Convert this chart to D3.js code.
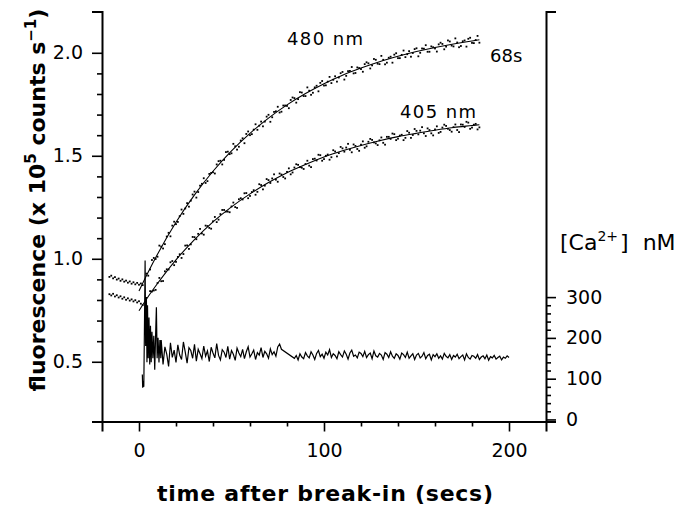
<!DOCTYPE html>
<html>
<head>
<meta charset="utf-8">
<script src="https://cdn.jsdelivr.net/npm/d3@7"></script>
<style>
  body { margin: 0; background: #fff; }
  svg text { font-family: "DejaVu Sans", sans-serif; fill: #000; }
</style>
</head>
<body>
<div id="chart"></div>
<script>
// pre break-in readings, one per second
const preTimes = [-16, -15, -14, -13, -12, -11, -10, -9, -8, -7, -6, -5, -4, -3, -2, -1, 0, 1, 2];
const pre480 = [0.912, 0.918, 0.905, 0.911, 0.899, 0.904, 0.893, 0.900, 0.889, 0.894, 0.884, 0.890, 0.879, 0.886, 0.876, 0.883, 0.874, 0.880, 0.872];
const pre405 = [0.828, 0.822, 0.830, 0.817, 0.823, 0.812, 0.818, 0.806, 0.813, 0.801, 0.808, 0.797, 0.803, 0.793, 0.799, 0.788, 0.794, 0.782, 0.775];

// after break-in: 480 nm at even seconds from t=4, and odd seconds from t=5
const dots480 = [0.928, 0.948, 1.004, 1.010, 1.059, 1.071, 1.126, 1.161, 1.168, 1.207,
  1.218, 1.270, 1.282, 1.326, 1.324, 1.364, 1.368, 1.412, 1.420, 1.458,
  1.476, 1.480, 1.520, 1.512, 1.546, 1.544, 1.585, 1.606, 1.600, 1.627,
  1.626, 1.666, 1.666, 1.699, 1.687, 1.716, 1.710, 1.744, 1.742, 1.771,
  1.780, 1.775, 1.807, 1.790, 1.816, 1.806, 1.840, 1.854, 1.841, 1.860,
  1.853, 1.886, 1.880, 1.907, 1.888, 1.912, 1.900, 1.929, 1.921, 1.945,
  1.949, 1.939, 1.966, 1.945, 1.966, 1.952, 1.981, 1.991, 1.974, 1.990,
  1.979, 2.008, 1.999, 2.022, 2.000, 2.020, 2.005, 2.031, 2.021, 2.041,
  2.043, 2.030, 2.055, 2.031, 2.050, 2.033, 2.060, 2.068, 2.048, 2.062, 2.049];
const dots480odd = [0.918, 0.994, 0.999, 1.064, 1.050, 1.108, 1.109, 1.180, 1.179, 1.239,
  1.244, 1.253, 1.312, 1.297, 1.355, 1.391, 1.377, 1.417, 1.414, 1.474,
  1.458, 1.518, 1.508, 1.558, 1.530, 1.574, 1.561, 1.618, 1.605, 1.653,
  1.646, 1.643, 1.690, 1.665, 1.713, 1.738, 1.714, 1.744, 1.731, 1.783,
  1.758, 1.809, 1.790, 1.832, 1.796, 1.832, 1.813, 1.863, 1.842, 1.883,
  1.869, 1.860, 1.901, 1.870, 1.911, 1.931, 1.902, 1.926, 1.908, 1.954,
  1.924, 1.970, 1.947, 1.985, 1.944, 1.976, 1.952, 1.998, 1.974, 2.011,
  1.993, 1.981, 2.018, 1.983, 2.021, 2.037, 2.005, 2.027, 2.006, 2.049,
  2.017, 2.060, 2.035, 2.070, 2.027, 2.056, 2.030, 2.073, 2.047, 2.082];
// 405 nm at even seconds from t=6, and odd seconds from t=7
const dots405 = [0.843, 0.846, 0.882, 0.891, 0.939, 0.948, 0.989, 0.985, 1.022, 1.023,
  1.065, 1.070, 1.105, 1.121, 1.123, 1.161, 1.150, 1.182, 1.178, 1.217,
  1.237, 1.229, 1.254, 1.251, 1.289, 1.288, 1.319, 1.305, 1.333, 1.325,
  1.358, 1.355, 1.382, 1.390, 1.384, 1.414, 1.397, 1.422, 1.410, 1.443,
  1.456, 1.442, 1.460, 1.452, 1.484, 1.477, 1.503, 1.484, 1.506, 1.493,
  1.521, 1.513, 1.536, 1.540, 1.529, 1.555, 1.533, 1.554, 1.539, 1.568,
  1.577, 1.560, 1.575, 1.563, 1.592, 1.582, 1.605, 1.583, 1.602, 1.587,
  1.612, 1.601, 1.621, 1.622, 1.609, 1.633, 1.609, 1.628, 1.611, 1.637,
  1.645, 1.625, 1.639, 1.625, 1.652, 1.640, 1.661, 1.637, 1.655, 1.638];
const dots405odd = [0.841, 0.849, 0.907, 0.892, 0.949, 0.983, 0.969, 1.009, 1.004, 1.064,
  1.048, 1.106, 1.095, 1.145, 1.117, 1.159, 1.146, 1.203, 1.190, 1.237,
  1.229, 1.226, 1.273, 1.247, 1.294, 1.318, 1.294, 1.324, 1.311, 1.362,
  1.337, 1.387, 1.368, 1.410, 1.374, 1.409, 1.390, 1.439, 1.419, 1.459,
  1.445, 1.436, 1.476, 1.445, 1.486, 1.505, 1.476, 1.500, 1.481, 1.527,
  1.497, 1.543, 1.520, 1.558, 1.517, 1.548, 1.524, 1.570, 1.546, 1.582,
  1.565, 1.552, 1.589, 1.554, 1.592, 1.608, 1.576, 1.598, 1.576, 1.620,
  1.587, 1.630, 1.604, 1.639, 1.596, 1.625, 1.599, 1.643, 1.616, 1.651,
  1.631, 1.617, 1.652, 1.615, 1.651, 1.665, 1.631, 1.651, 1.628];

// fitted curves (tau = 68 s)
const fitTimes = [0, 5, 10, 20, 30, 40, 50, 60, 70, 80, 90, 100, 110, 120, 130, 140, 150, 160, 170, 180, 184];
const fit480 = [0.844, 0.936, 1.022, 1.177, 1.310, 1.425, 1.524, 1.609, 1.683, 1.747, 1.802, 1.850, 1.891, 1.926, 1.957, 1.983, 2.006, 2.026, 2.043, 2.057, 2.063];
const fit405 = [0.748, 0.817, 0.880, 0.995, 1.093, 1.179, 1.252, 1.315, 1.370, 1.418, 1.458, 1.494, 1.524, 1.550, 1.573, 1.593, 1.609, 1.624, 1.637, 1.647, 1.651];

// [Ca2+] (nM): the break-in transient, then one value per second from t=12
const spikeTimes = [1.8, 2.0, 2.3, 2.6, 3.0, 3.3, 3.6, 4.0, 4.3, 4.6, 5.0, 5.4, 5.8, 6.2, 6.6, 7.0, 7.5, 8.0, 8.5, 9.0, 9.4, 9.8, 10.3, 10.8, 11.3, 11.8];
const spikeValues = [110, 78, 95, 80, 250, 390, 180, 300, 140, 280, 150, 250, 135, 230, 140, 215, 150, 205, 122, 210, 275, 150, 200, 140, 195, 150];
const caStart = 12;
const caValues = [195, 135, 178, 160, 130, 188, 152, 170, 140, 183,
  158, 147, 190, 165, 138, 176, 169, 150, 184, 143,
  172, 161, 149, 180, 155, 168, 142, 177, 163, 151,
  186, 157, 146, 171, 165, 152, 179, 148, 169, 160,
  145, 175, 163, 154, 172, 149, 166, 178, 153, 161,
  170, 147, 164, 158, 176, 152, 167, 161, 150, 173,
  159, 166, 155, 178, 185, 172, null, null, null, null,
  null, null, 150, 157, 146, 161, 153, 149, 164, 156,
  151, 166, 158, 147, 162, 169, 154, 160, 150, 165,
  158, 171, 152, 161, 157, 149, 166, 159, 153, 168,
  160, 148, 163, 170, 155, 158, 151, 165, 162, 154,
  167, 152, 159, 163, 149, 168, 156, 153, 162, 158,
  147, 164, 160, 152, 166, 155, 150, 161, 157, 148,
  163, 159, 152, 165, 150, 156, 161, 147, 158, 162,
  151, 155, 164, 149, 157, 160, 146, 159, 154, 161,
  150, 156, 148, 162, 155, 151, 159, 147, 157, 153,
  160, 149, 154, 158, 146, 161, 152, 148, 157, 155,
  150, 159, 147, 153, 156, 149, 158, 145, 154, 151,
  157, 148, 152, 155, 146, 153, 150, 156, 152];

const xMajor = [0, 100, 200];
const xMinor = [20, 40, 60, 80, 120, 140, 160, 180];
const yMajor = [0.5, 1.0, 1.5, 2.0];
const yMinor = [0.6, 0.7, 0.8, 0.9, 1.1, 1.2, 1.3, 1.4, 1.6, 1.7, 1.8, 1.9];
const caMajor = [0, 100, 200, 300];
const caMinor = [20, 40, 60, 80, 120, 140, 160, 180, 220, 240, 260, 280];

const width = 695, height = 506;
const plotLeft = 102, plotRight = 546, plotTop = 11.6, plotBottom = 421.5;

const svg = d3.select('#chart').append('svg')
  .attr('width', width)
  .attr('height', height);

const x = d3.scaleLinear().domain([-20, 220]).range([plotLeft, plotRight]);
const y = d3.scaleLinear().domain([0.21, 2.2]).range([plotBottom, plotTop]);
const yCa = d3.scaleLinear().domain([-5, 1000]).range([plotBottom, plotTop]);

// axes
function styleAxis(g, w) {
  g.selectAll('path.domain').attr('stroke', '#000').attr('stroke-width', w);
  g.selectAll('.tick line').attr('stroke', '#000').attr('stroke-width', 1.6);
  g.selectAll('.tick text').attr('fill', '#000')
    .style('font-family', '"DejaVu Sans", sans-serif').style('font-size', '19px');
}

const gx = svg.append('g').attr('transform', `translate(0,${plotBottom})`)
  .call(d3.axisBottom(x).tickValues(xMajor).tickSize(10).tickSizeOuter(10).tickPadding(12));
styleAxis(gx, 2);
svg.append('g').attr('transform', `translate(0,${plotBottom})`)
  .call(d3.axisBottom(x).tickValues(xMinor).tickSize(5).tickFormat(''))
  .call(g => { g.select('.domain').remove(); styleAxis(g, 2); });

const gy = svg.append('g').attr('transform', `translate(${plotLeft},0)`)
  .call(d3.axisLeft(y).tickValues(yMajor).tickFormat(d3.format('.1f')).tickSize(10).tickSizeOuter(10).tickPadding(9));
styleAxis(gy, 2);
svg.append('g').attr('transform', `translate(${plotLeft},0)`)
  .call(d3.axisLeft(y).tickValues(yMinor).tickSize(5).tickFormat(''))
  .call(g => { g.select('.domain').remove(); styleAxis(g, 2); });

const gr = svg.append('g').attr('transform', `translate(${plotRight},0)`)
  .call(d3.axisRight(yCa).tickValues(caMajor).tickSize(10).tickSizeOuter(10).tickPadding(10));
styleAxis(gr, 2);
svg.append('g').attr('transform', `translate(${plotRight},0)`)
  .call(d3.axisRight(yCa).tickValues(caMinor).tickSize(5).tickFormat(''))
  .call(g => { g.select('.domain').remove(); styleAxis(g, 2); });

// fitted lines
const fitLine = d3.line().x(d => x(d[0])).y(d => y(d[1])).curve(d3.curveMonotoneX);
[fit480, fit405].forEach(vals => {
  svg.append('path')
    .datum(fitTimes.map((t, i) => [t, vals[i]]))
    .attr('fill', 'none')
    .attr('stroke', '#000')
    .attr('stroke-width', 1.1)
    .attr('d', fitLine);
});

// data points
const pts = [];
preTimes.forEach((t, i) => { pts.push([t, pre480[i]]); pts.push([t, pre405[i]]); });
dots480.forEach((v, i) => pts.push([4 + i * 2, v]));
dots480odd.forEach((v, i) => pts.push([5 + i * 2, v]));
dots405.forEach((v, i) => pts.push([6 + i * 2, v]));
dots405odd.forEach((v, i) => pts.push([7 + i * 2, v]));

svg.append('g').selectAll('rect')
  .data(pts)
  .join('rect')
  .attr('x', d => x(d[0]) - 0.9)
  .attr('y', d => y(d[1]) - 0.9)
  .attr('width', 1.8)
  .attr('height', 1.8)
  .attr('fill', '#000');

// calcium trace
const caPts = spikeTimes.map((t, i) => [t, spikeValues[i]]);
caValues.forEach((v, i) => { if (v !== null) caPts.push([caStart + i, v]); });
svg.append('path')
  .datum(caPts)
  .attr('fill', 'none')
  .attr('stroke', '#000')
  .attr('stroke-width', 1.2)
  .attr('d', d3.line().x(d => x(d[0])).y(d => yCa(d[1])));

// labels
svg.append('text').attr('x', 287).attr('y', 45).style('font-size', '18px')
  .attr('textLength', 76).attr('lengthAdjust', 'spacing').text('480 nm');
svg.append('text').attr('x', 400).attr('y', 118).style('font-size', '18px')
  .attr('textLength', 76).attr('lengthAdjust', 'spacing').text('405 nm');
svg.append('text').attr('x', 490).attr('y', 62).style('font-size', '18px').text('68s');

const ca = svg.append('text').attr('x', 560).attr('y', 250).style('font-size', '22px');
ca.append('tspan').text('[Ca');
ca.append('tspan').attr('dy', -9).style('font-size', '14px').text('2+');
ca.append('tspan').attr('dx', 2).attr('dy', 9).text(']');
ca.append('tspan').attr('dx', 14).text('nM');

svg.append('text')
  .attr('x', (157 + 493) / 2).attr('y', 501)
  .attr('text-anchor', 'middle')
  .style('font-size', '22px').style('font-weight', 'bold')
  .attr('textLength', 336).attr('lengthAdjust', 'spacing')
  .text('time after break-in (secs)');

const yt = svg.append('text')
  .attr('transform', 'translate(45,200) rotate(-90)')
  .attr('text-anchor', 'middle')
  .style('font-size', '22px').style('font-weight', 'bold');
yt.append('tspan').text('fluorescence (x 10');
yt.append('tspan').attr('dy', -9).style('font-size', '15px').text('5');
yt.append('tspan').attr('dy', 9).text(' counts s');
yt.append('tspan').attr('dy', -9).style('font-size', '15px').text('\u22121');
yt.append('tspan').attr('dy', 9).text(')');
</script>
</body>
</html>
